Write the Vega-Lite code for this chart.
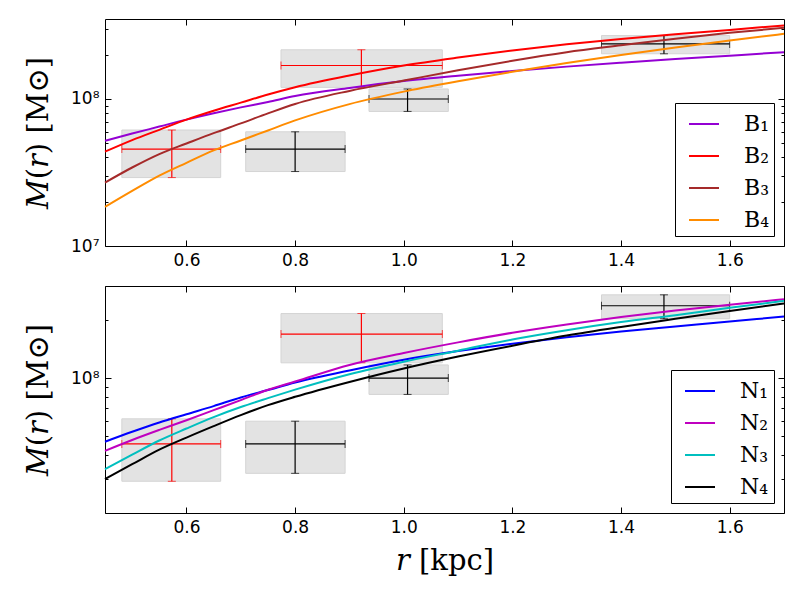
{
  "$schema": "https://vega.github.io/schema/vega-lite/v6.json",
  "background": "white",
  "padding": {"left": 24, "top": 18, "right": 5, "bottom": 5},
  "config": {
    "view": {"stroke": "#000000", "strokeWidth": 1},
    "axis": {"domain": false, "grid": false, "labelFont": "DejaVu Sans", "labelFontSize": 17, "labelColor": "#000000", "tickColor": "#000000", "tickWidth": 1, "titleFont": "DejaVu Serif", "titleFontWeight": "normal", "titleFontSize": 29, "titleColor": "#000000"},
    "legend": {"orient": "bottom-right", "offset": 10, "fillColor": "white", "strokeColor": "black", "strokeWidth": 1, "cornerRadius": 0, "padding": 5, "symbolOffset": 8, "symbolType": "stroke", "symbolSize": 900, "symbolStrokeWidth": 2, "labelFont": "DejaVu Serif", "labelFontSize": 22, "labelColor": "#000000", "labelOffset": 24, "rowPadding": 5}
  },
  "datasets": {
    "obs": [
      {"r": 0.573, "rlo": 0.481, "rhi": 0.663, "M": 45600000, "Mlo": 29200000, "Mhi": 61500000, "sample": "A"},
      {"r": 0.8, "rlo": 0.709, "rhi": 0.892, "M": 45600000, "Mlo": 32100000, "Mhi": 59800000, "sample": "B"},
      {"r": 0.922, "rlo": 0.774, "rhi": 1.071, "M": 169000000, "Mlo": 120000000, "Mhi": 216000000, "sample": "A"},
      {"r": 1.007, "rlo": 0.936, "rhi": 1.082, "M": 100000000, "Mlo": 82300000, "Mhi": 117000000, "sample": "B"},
      {"r": 1.479, "rlo": 1.364, "rhi": 1.6, "M": 237000000, "Mlo": 203000000, "Mhi": 270000000, "sample": "B"}
    ],
    "B": [
      {"m": "B₁", "r": 0.45, "M": 52000000}, {"m": "B₁", "r": 0.5, "M": 58200000}, {"m": "B₁", "r": 0.55, "M": 64900000}, {"m": "B₁", "r": 0.6, "M": 72400000}, {"m": "B₁", "r": 0.65, "M": 80000000}, {"m": "B₁", "r": 0.7, "M": 87700000}, {"m": "B₁", "r": 0.75, "M": 95500000}, {"m": "B₁", "r": 0.8, "M": 104700000}, {"m": "B₁", "r": 0.9, "M": 118900000}, {"m": "B₁", "r": 1.0, "M": 132400000}, {"m": "B₁", "r": 1.1, "M": 143900000}, {"m": "B₁", "r": 1.2, "M": 154900000}, {"m": "B₁", "r": 1.3, "M": 166000000}, {"m": "B₁", "r": 1.4, "M": 176600000}, {"m": "B₁", "r": 1.5, "M": 187100000}, {"m": "B₁", "r": 1.6, "M": 197200000}, {"m": "B₁", "r": 1.7, "M": 208000000},
      {"m": "B₂", "r": 0.45, "M": 43800000}, {"m": "B₂", "r": 0.5, "M": 52500000}, {"m": "B₂", "r": 0.55, "M": 61700000}, {"m": "B₂", "r": 0.6, "M": 72400000}, {"m": "B₂", "r": 0.65, "M": 83200000}, {"m": "B₂", "r": 0.7, "M": 94400000}, {"m": "B₂", "r": 0.75, "M": 107200000}, {"m": "B₂", "r": 0.8, "M": 120200000}, {"m": "B₂", "r": 0.9, "M": 144500000}, {"m": "B₂", "r": 1.0, "M": 169000000}, {"m": "B₂", "r": 1.1, "M": 191400000}, {"m": "B₂", "r": 1.2, "M": 213800000}, {"m": "B₂", "r": 1.3, "M": 235500000}, {"m": "B₂", "r": 1.4, "M": 255900000}, {"m": "B₂", "r": 1.5, "M": 275400000}, {"m": "B₂", "r": 1.6, "M": 295100000}, {"m": "B₂", "r": 1.7, "M": 316200000},
      {"m": "B₃", "r": 0.45, "M": 27000000}, {"m": "B₃", "r": 0.5, "M": 34200000}, {"m": "B₃", "r": 0.55, "M": 42200000}, {"m": "B₃", "r": 0.6, "M": 49800000}, {"m": "B₃", "r": 0.65, "M": 58600000}, {"m": "B₃", "r": 0.7, "M": 68200000}, {"m": "B₃", "r": 0.75, "M": 79800000}, {"m": "B₃", "r": 0.8, "M": 92500000}, {"m": "B₃", "r": 0.9, "M": 113500000}, {"m": "B₃", "r": 1.0, "M": 133400000}, {"m": "B₃", "r": 1.1, "M": 156700000}, {"m": "B₃", "r": 1.2, "M": 182000000}, {"m": "B₃", "r": 1.3, "M": 208000000}, {"m": "B₃", "r": 1.4, "M": 231700000}, {"m": "B₃", "r": 1.5, "M": 257000000}, {"m": "B₃", "r": 1.6, "M": 281800000}, {"m": "B₃", "r": 1.7, "M": 304800000},
      {"m": "B₄", "r": 0.45, "M": 18450000}, {"m": "B₄", "r": 0.5, "M": 23700000}, {"m": "B₄", "r": 0.55, "M": 30100000}, {"m": "B₄", "r": 0.6, "M": 36800000}, {"m": "B₄", "r": 0.65, "M": 44700000}, {"m": "B₄", "r": 0.7, "M": 52200000}, {"m": "B₄", "r": 0.75, "M": 61100000}, {"m": "B₄", "r": 0.8, "M": 71500000}, {"m": "B₄", "r": 0.9, "M": 92300000}, {"m": "B₄", "r": 1.0, "M": 112200000}, {"m": "B₄", "r": 1.1, "M": 131800000}, {"m": "B₄", "r": 1.2, "M": 153100000}, {"m": "B₄", "r": 1.3, "M": 175800000}, {"m": "B₄", "r": 1.4, "M": 199500000}, {"m": "B₄", "r": 1.5, "M": 223900000}, {"m": "B₄", "r": 1.6, "M": 249500000}, {"m": "B₄", "r": 1.7, "M": 277300000}
    ],
    "N": [
      {"m": "N₁", "r": 0.45, "M": 46800000}, {"m": "N₁", "r": 0.5, "M": 52700000}, {"m": "N₁", "r": 0.55, "M": 58900000}, {"m": "N₁", "r": 0.6, "M": 65000000}, {"m": "N₁", "r": 0.65, "M": 71600000}, {"m": "N₁", "r": 0.7, "M": 79400000}, {"m": "N₁", "r": 0.75, "M": 86700000}, {"m": "N₁", "r": 0.8, "M": 94800000}, {"m": "N₁", "r": 0.9, "M": 109600000}, {"m": "N₁", "r": 1.0, "M": 124500000}, {"m": "N₁", "r": 1.1, "M": 138000000}, {"m": "N₁", "r": 1.2, "M": 150700000}, {"m": "N₁", "r": 1.3, "M": 162900000}, {"m": "N₁", "r": 1.4, "M": 174200000}, {"m": "N₁", "r": 1.5, "M": 184900000}, {"m": "N₁", "r": 1.6, "M": 196300000}, {"m": "N₁", "r": 1.7, "M": 208400000},
      {"m": "N₂", "r": 0.45, "M": 42000000}, {"m": "N₂", "r": 0.5, "M": 47800000}, {"m": "N₂", "r": 0.55, "M": 53900000}, {"m": "N₂", "r": 0.6, "M": 60500000}, {"m": "N₂", "r": 0.65, "M": 68200000}, {"m": "N₂", "r": 0.7, "M": 76900000}, {"m": "N₂", "r": 0.75, "M": 87000000}, {"m": "N₂", "r": 0.8, "M": 96000000}, {"m": "N₂", "r": 0.9, "M": 117000000}, {"m": "N₂", "r": 1.0, "M": 134900000}, {"m": "N₂", "r": 1.1, "M": 153100000}, {"m": "N₂", "r": 1.2, "M": 171800000}, {"m": "N₂", "r": 1.3, "M": 189700000}, {"m": "N₂", "r": 1.4, "M": 207000000}, {"m": "N₂", "r": 1.5, "M": 223900000}, {"m": "N₂", "r": 1.6, "M": 239900000}, {"m": "N₂", "r": 1.7, "M": 256500000},
      {"m": "N₃", "r": 0.45, "M": 33700000}, {"m": "N₃", "r": 0.5, "M": 40100000}, {"m": "N₃", "r": 0.55, "M": 47500000}, {"m": "N₃", "r": 0.6, "M": 54800000}, {"m": "N₃", "r": 0.65, "M": 62800000}, {"m": "N₃", "r": 0.7, "M": 70800000}, {"m": "N₃", "r": 0.75, "M": 78700000}, {"m": "N₃", "r": 0.8, "M": 87100000}, {"m": "N₃", "r": 0.9, "M": 104700000}, {"m": "N₃", "r": 1.0, "M": 121600000}, {"m": "N₃", "r": 1.1, "M": 138700000}, {"m": "N₃", "r": 1.2, "M": 158500000}, {"m": "N₃", "r": 1.3, "M": 177000000}, {"m": "N₃", "r": 1.4, "M": 195000000}, {"m": "N₃", "r": 1.5, "M": 211800000}, {"m": "N₃", "r": 1.6, "M": 231200000}, {"m": "N₃", "r": 1.7, "M": 251200000},
      {"m": "N₄", "r": 0.45, "M": 30000000}, {"m": "N₄", "r": 0.5, "M": 35800000}, {"m": "N₄", "r": 0.55, "M": 42600000}, {"m": "N₄", "r": 0.6, "M": 49200000}, {"m": "N₄", "r": 0.65, "M": 56400000}, {"m": "N₄", "r": 0.7, "M": 64300000}, {"m": "N₄", "r": 0.75, "M": 72400000}, {"m": "N₄", "r": 0.8, "M": 80000000}, {"m": "N₄", "r": 0.9, "M": 95500000}, {"m": "N₄", "r": 1.0, "M": 112200000}, {"m": "N₄", "r": 1.1, "M": 129400000}, {"m": "N₄", "r": 1.2, "M": 147200000}, {"m": "N₄", "r": 1.3, "M": 166000000}, {"m": "N₄", "r": 1.4, "M": 184100000}, {"m": "N₄", "r": 1.5, "M": 202800000}, {"m": "N₄", "r": 1.6, "M": 222800000}, {"m": "N₄", "r": 1.7, "M": 243800000}
    ]
  },
  "spacing": 40,
  "bounds": "flush",
  "resolve": {"scale": {"color": "independent", "stroke": "independent", "fill": "independent"}},
  "vconcat": [
    {
      "width": 679, "height": 227,
      "layer": [
        {
          "data": {"name": "obs"},
          "mark": {"type": "rect", "fill": "#e3e3e3", "stroke": "#d4d4d4", "strokeWidth": 1},
          "encoding": {
            "x": {"field": "rlo", "type": "quantitative", "scale": {"domain": [0.45, 1.7], "nice": false, "zero": false}, "axis": {"orient": "top", "labels": false, "title": null, "values": [0.6, 0.8, 1.0, 1.2, 1.4, 1.6], "tickSize": -6}},
            "x2": {"field": "rhi"},
            "y": {"field": "Mlo", "type": "quantitative", "scale": {"type": "log", "domain": [10000000, 350000000], "nice": false}, "axis": {"orient": "right", "labels": false, "title": null, "values": [10000000, 20000000, 30000000, 40000000, 50000000, 60000000, 70000000, 80000000, 90000000, 100000000, 200000000, 300000000], "tickSize": {"condition": {"test": "datum.value == 10000000 || datum.value == 100000000", "value": -6}, "value": -3}}},
            "y2": {"field": "Mhi"}
          }
        },
        {
          "layer": [
            {
              "data": {"name": "obs"},
              "mark": {"type": "rule", "strokeWidth": 1.2},
              "encoding": {
                "x": {"field": "rlo", "type": "quantitative", "scale": {"domain": [0.45, 1.7], "nice": false, "zero": false}},
                "x2": {"field": "rhi"},
                "y": {"field": "M", "type": "quantitative", "scale": {"type": "log", "domain": [10000000, 350000000], "nice": false}},
                "stroke": {"field": "sample", "type": "nominal", "scale": {"domain": ["A", "B"], "range": ["#ff0000", "#000000"]}, "legend": null}
              }
            },
            {
              "data": {"name": "obs"},
              "mark": {"type": "rule", "strokeWidth": 1.2},
              "encoding": {
                "x": {"field": "r", "type": "quantitative", "scale": {"domain": [0.45, 1.7], "nice": false, "zero": false}},
                "y": {"field": "Mlo", "type": "quantitative", "scale": {"type": "log", "domain": [10000000, 350000000], "nice": false}},
                "y2": {"field": "Mhi"},
                "stroke": {"field": "sample", "type": "nominal", "scale": {"domain": ["A", "B"], "range": ["#ff0000", "#000000"]}, "legend": null}
              }
            },
            {
              "data": {"name": "obs"},
              "mark": {"type": "tick", "orient": "vertical", "size": 8, "thickness": 1},
              "encoding": {
                "x": {"field": "rlo", "type": "quantitative", "scale": {"domain": [0.45, 1.7], "nice": false, "zero": false}},
                "y": {"field": "M", "type": "quantitative", "scale": {"type": "log", "domain": [10000000, 350000000], "nice": false}},
                "fill": {"field": "sample", "type": "nominal", "scale": {"domain": ["A", "B"], "range": ["#ff0000", "#000000"]}, "legend": null}
              }
            },
            {
              "data": {"name": "obs"},
              "mark": {"type": "tick", "orient": "vertical", "size": 8, "thickness": 1},
              "encoding": {
                "x": {"field": "rhi", "type": "quantitative", "scale": {"domain": [0.45, 1.7], "nice": false, "zero": false}},
                "y": {"field": "M", "type": "quantitative", "scale": {"type": "log", "domain": [10000000, 350000000], "nice": false}},
                "fill": {"field": "sample", "type": "nominal", "scale": {"domain": ["A", "B"], "range": ["#ff0000", "#000000"]}, "legend": null}
              }
            },
            {
              "data": {"name": "obs"},
              "mark": {"type": "tick", "orient": "horizontal", "size": 8, "thickness": 1},
              "encoding": {
                "x": {"field": "r", "type": "quantitative", "scale": {"domain": [0.45, 1.7], "nice": false, "zero": false}},
                "y": {"field": "Mlo", "type": "quantitative", "scale": {"type": "log", "domain": [10000000, 350000000], "nice": false}},
                "fill": {"field": "sample", "type": "nominal", "scale": {"domain": ["A", "B"], "range": ["#ff0000", "#000000"]}, "legend": null}
              }
            },
            {
              "data": {"name": "obs"},
              "mark": {"type": "tick", "orient": "horizontal", "size": 8, "thickness": 1},
              "encoding": {
                "x": {"field": "r", "type": "quantitative", "scale": {"domain": [0.45, 1.7], "nice": false, "zero": false}},
                "y": {"field": "Mhi", "type": "quantitative", "scale": {"type": "log", "domain": [10000000, 350000000], "nice": false}},
                "fill": {"field": "sample", "type": "nominal", "scale": {"domain": ["A", "B"], "range": ["#ff0000", "#000000"]}, "legend": null}
              }
            },
            {
              "data": {"name": "B"},
              "mark": {"type": "line", "strokeWidth": 2, "interpolate": "monotone"},
              "encoding": {
                "x": {"field": "r", "type": "quantitative", "scale": {"domain": [0.45, 1.7], "nice": false, "zero": false}, "axis": {"orient": "bottom", "title": null, "values": [0.6, 0.8, 1.0, 1.2, 1.4, 1.6], "format": ".1f", "tickSize": -6, "labelPadding": 12}},
                "y": {"field": "M", "type": "quantitative", "scale": {"type": "log", "domain": [10000000, 350000000], "nice": false}, "axis": {"orient": "left", "title": "𝑀(𝑟) [M⊙]", "titlePadding": 17, "values": [10000000, 20000000, 30000000, 40000000, 50000000, 60000000, 70000000, 80000000, 90000000, 100000000, 200000000, 300000000], "labelExpr": "datum.value == 10000000 ? '10⁷' : datum.value == 100000000 ? '10⁸' : ''", "tickSize": {"condition": {"test": "datum.value == 10000000 || datum.value == 100000000", "value": -6}, "value": -3}, "labelPadding": 12}},
                "color": {"field": "m", "type": "nominal", "title": null, "scale": {"domain": ["B₁", "B₂", "B₃", "B₄"], "range": ["#9400d3", "#ff0000", "#a52a2a", "#ff8c00"]}}
              }
            }
          ]
        }
      ],
      "resolve": {"scale": {"x": "independent", "y": "independent"}}
    },
    {
      "width": 679, "height": 227,
      "layer": [
        {
          "data": {"name": "obs"},
          "mark": {"type": "rect", "fill": "#e3e3e3", "stroke": "#d4d4d4", "strokeWidth": 1},
          "encoding": {
            "x": {"field": "rlo", "type": "quantitative", "scale": {"domain": [0.45, 1.7], "nice": false, "zero": false}, "axis": {"orient": "top", "labels": false, "title": null, "values": [0.6, 0.8, 1.0, 1.2, 1.4, 1.6], "tickSize": -6}},
            "x2": {"field": "rhi"},
            "y": {"field": "Mlo", "type": "quantitative", "scale": {"type": "log", "domain": [20000000, 300000000], "nice": false}, "axis": {"orient": "right", "labels": false, "title": null, "values": [20000000, 30000000, 40000000, 50000000, 60000000, 70000000, 80000000, 90000000, 100000000, 200000000, 300000000], "tickSize": {"condition": {"test": "datum.value == 100000000", "value": -6}, "value": -3}}},
            "y2": {"field": "Mhi"}
          }
        },
        {
          "layer": [
            {
              "data": {"name": "obs"},
              "mark": {"type": "rule", "strokeWidth": 1.2},
              "encoding": {
                "x": {"field": "rlo", "type": "quantitative", "scale": {"domain": [0.45, 1.7], "nice": false, "zero": false}},
                "x2": {"field": "rhi"},
                "y": {"field": "M", "type": "quantitative", "scale": {"type": "log", "domain": [20000000, 300000000], "nice": false}},
                "stroke": {"field": "sample", "type": "nominal", "scale": {"domain": ["A", "B"], "range": ["#ff0000", "#000000"]}, "legend": null}
              }
            },
            {
              "data": {"name": "obs"},
              "mark": {"type": "rule", "strokeWidth": 1.2},
              "encoding": {
                "x": {"field": "r", "type": "quantitative", "scale": {"domain": [0.45, 1.7], "nice": false, "zero": false}},
                "y": {"field": "Mlo", "type": "quantitative", "scale": {"type": "log", "domain": [20000000, 300000000], "nice": false}},
                "y2": {"field": "Mhi"},
                "stroke": {"field": "sample", "type": "nominal", "scale": {"domain": ["A", "B"], "range": ["#ff0000", "#000000"]}, "legend": null}
              }
            },
            {
              "data": {"name": "obs"},
              "mark": {"type": "tick", "orient": "vertical", "size": 8, "thickness": 1},
              "encoding": {
                "x": {"field": "rlo", "type": "quantitative", "scale": {"domain": [0.45, 1.7], "nice": false, "zero": false}},
                "y": {"field": "M", "type": "quantitative", "scale": {"type": "log", "domain": [20000000, 300000000], "nice": false}},
                "fill": {"field": "sample", "type": "nominal", "scale": {"domain": ["A", "B"], "range": ["#ff0000", "#000000"]}, "legend": null}
              }
            },
            {
              "data": {"name": "obs"},
              "mark": {"type": "tick", "orient": "vertical", "size": 8, "thickness": 1},
              "encoding": {
                "x": {"field": "rhi", "type": "quantitative", "scale": {"domain": [0.45, 1.7], "nice": false, "zero": false}},
                "y": {"field": "M", "type": "quantitative", "scale": {"type": "log", "domain": [20000000, 300000000], "nice": false}},
                "fill": {"field": "sample", "type": "nominal", "scale": {"domain": ["A", "B"], "range": ["#ff0000", "#000000"]}, "legend": null}
              }
            },
            {
              "data": {"name": "obs"},
              "mark": {"type": "tick", "orient": "horizontal", "size": 8, "thickness": 1},
              "encoding": {
                "x": {"field": "r", "type": "quantitative", "scale": {"domain": [0.45, 1.7], "nice": false, "zero": false}},
                "y": {"field": "Mlo", "type": "quantitative", "scale": {"type": "log", "domain": [20000000, 300000000], "nice": false}},
                "fill": {"field": "sample", "type": "nominal", "scale": {"domain": ["A", "B"], "range": ["#ff0000", "#000000"]}, "legend": null}
              }
            },
            {
              "data": {"name": "obs"},
              "mark": {"type": "tick", "orient": "horizontal", "size": 8, "thickness": 1},
              "encoding": {
                "x": {"field": "r", "type": "quantitative", "scale": {"domain": [0.45, 1.7], "nice": false, "zero": false}},
                "y": {"field": "Mhi", "type": "quantitative", "scale": {"type": "log", "domain": [20000000, 300000000], "nice": false}},
                "fill": {"field": "sample", "type": "nominal", "scale": {"domain": ["A", "B"], "range": ["#ff0000", "#000000"]}, "legend": null}
              }
            },
            {
              "data": {"name": "N"},
              "mark": {"type": "line", "strokeWidth": 2, "interpolate": "monotone"},
              "encoding": {
                "x": {"field": "r", "type": "quantitative", "scale": {"domain": [0.45, 1.7], "nice": false, "zero": false}, "axis": {"orient": "bottom", "title": "𝑟 [kpc]", "titlePadding": 11, "values": [0.6, 0.8, 1.0, 1.2, 1.4, 1.6], "format": ".1f", "tickSize": -6, "labelPadding": 12}},
                "y": {"field": "M", "type": "quantitative", "scale": {"type": "log", "domain": [20000000, 300000000], "nice": false}, "axis": {"orient": "left", "title": "𝑀(𝑟) [M⊙]", "titlePadding": 17, "values": [20000000, 30000000, 40000000, 50000000, 60000000, 70000000, 80000000, 90000000, 100000000, 200000000, 300000000], "labelExpr": "datum.value == 100000000 ? '10⁸' : ''", "tickSize": {"condition": {"test": "datum.value == 100000000", "value": -6}, "value": -3}, "labelPadding": 12}},
                "color": {"field": "m", "type": "nominal", "title": null, "scale": {"domain": ["N₁", "N₂", "N₃", "N₄"], "range": ["#0000ff", "#bf00bf", "#00bfbf", "#000000"]}}
              }
            }
          ]
        }
      ],
      "resolve": {"scale": {"x": "independent", "y": "independent"}}
    }
  ]
}
